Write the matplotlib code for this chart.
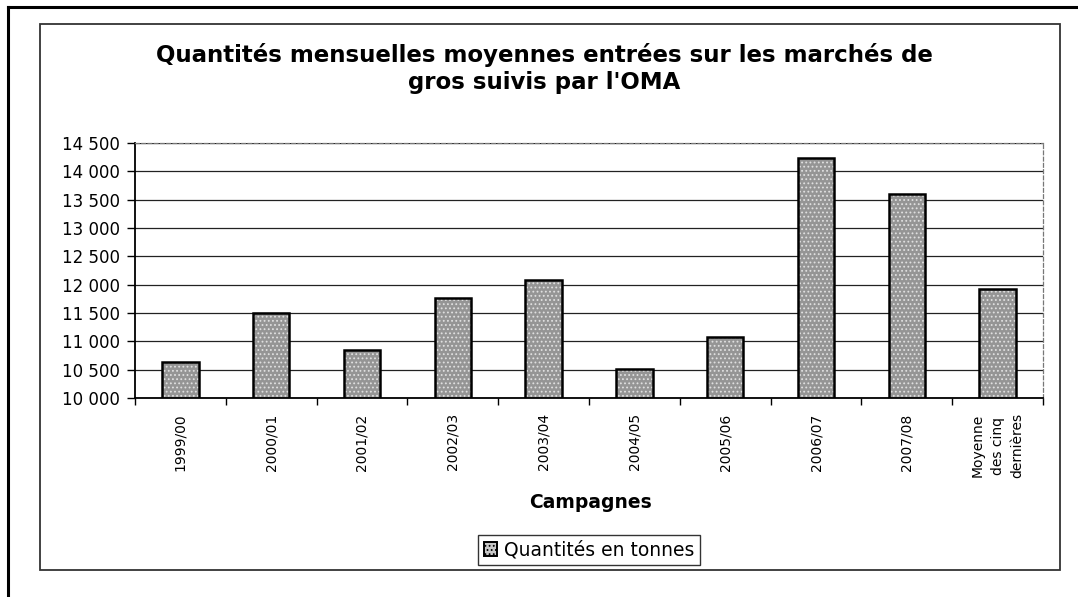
import matplotlib
matplotlib.use("Agg")
import matplotlib.pyplot as plt
from matplotlib.patches import Rectangle, Patch
from matplotlib.lines import Line2D
from matplotlib.ticker import FuncFormatter, FixedLocator
import numpy as np

plt.rcParams['font.family'] = ['DejaVu Sans']
plt.rcParams['hatch.linewidth'] = 0.8

categories = ["1999/00", "2000/01", "2001/02", "2002/03", "2003/04", "2004/05",
              "2005/06", "2006/07", "2007/08", "Moyenne\ndes cinq\ndernières"]
quantites = [10640, 11495, 10850, 11760, 12090, 10520, 11080, 14230, 13600, 11920]
yticks = [10000, 10500, 11000, 11500, 12000, 12500, 13000, 13500, 14000, 14500]

W, H = 1078, 597
fig = plt.figure(figsize=(W / 100, H / 100), dpi=100)
fig.patch.set_facecolor("white")

def fx(px):
    return px / W

def fy(py):
    return 1 - py / H

# outer border (scan frame)
fig.add_artist(Line2D([fx(8), fx(8)], [fy(7), fy(597)], color="black", lw=2.2))
fig.add_artist(Line2D([fx(8), fx(1078)], [fy(7), fy(7)], color="black", lw=2.2))
# chart area frame
fig.add_artist(Rectangle((fx(40), fy(570)), fx(1060) - fx(40), fy(24) - fy(570),
                         fill=False, edgecolor="#333333", lw=1.3))

ax = fig.add_axes([fx(135), fy(398), fx(1043) - fx(135), fy(143) - fy(398)])
x = np.arange(len(categories))
ax.bar(x, quantites, width=0.4, color="#959595", edgecolor="#e0e0e0",
       hatch="....", linewidth=0, zorder=2)
ax.bar(x, quantites, width=0.4, facecolor="none", edgecolor="black",
       linewidth=1.8, zorder=3)

ax.set_xlim(-0.5, len(categories) - 0.5)
ax.set_ylim(yticks[0], yticks[-1])
ax.set_yticks(yticks)
ax.yaxis.set_major_formatter(FuncFormatter(lambda v, p: f"{int(v):,}".replace(",", " ")))
ax.yaxis.grid(True, color="#222222", lw=0.9, zorder=1)
ax.set_axisbelow(True)

ax.set_xticks(x)
ax.set_xticklabels(categories, rotation=90, va="top", ha="center", fontsize=10,
                   linespacing=1.55)
ax.xaxis.set_minor_locator(FixedLocator(np.arange(-0.5, len(categories), 1.0)))
ax.tick_params(axis="x", which="major", length=0, pad=11)
ax.tick_params(axis="x", which="minor", length=5, direction="out", width=1)
ax.tick_params(axis="y", length=6, direction="out", width=1, labelsize=12, pad=5)

for s in ["left", "bottom"]:
    ax.spines[s].set_linewidth(1.3)
    ax.spines[s].set_color("black")
for s in ["top", "right"]:
    ax.spines[s].set_linewidth(0.9)
    ax.spines[s].set_color("#777777")
    ax.spines[s].set_linestyle((0, (3, 2)))

fig.text(fx(544), fy(55), "Quantités mensuelles moyennes entrées sur les marchés de",
         ha="center", va="center", fontsize=16.5, fontweight="bold")
fig.text(fx(544), fy(82), "gros suivis par l'OMA",
         ha="center", va="center", fontsize=16.5, fontweight="bold")
fig.text(fx(591), fy(503), "Campagnes", ha="center", va="center",
         fontsize=13.5, fontweight="bold")

handle = Patch(facecolor="#c8c8c8", edgecolor="black", hatch="....", lw=1.4)
leg = fig.legend([handle], ["Quantités en tonnes"], loc="center",
                 bbox_to_anchor=(fx(589), fy(550)), fontsize=13.5, frameon=True,
                 fancybox=False, edgecolor="black", handlelength=0.7,
                 handleheight=0.7, handletextpad=0.4, borderpad=0.3)
leg.get_frame().set_linewidth(1.0)

fig.savefig("out.png", dpi=100)
